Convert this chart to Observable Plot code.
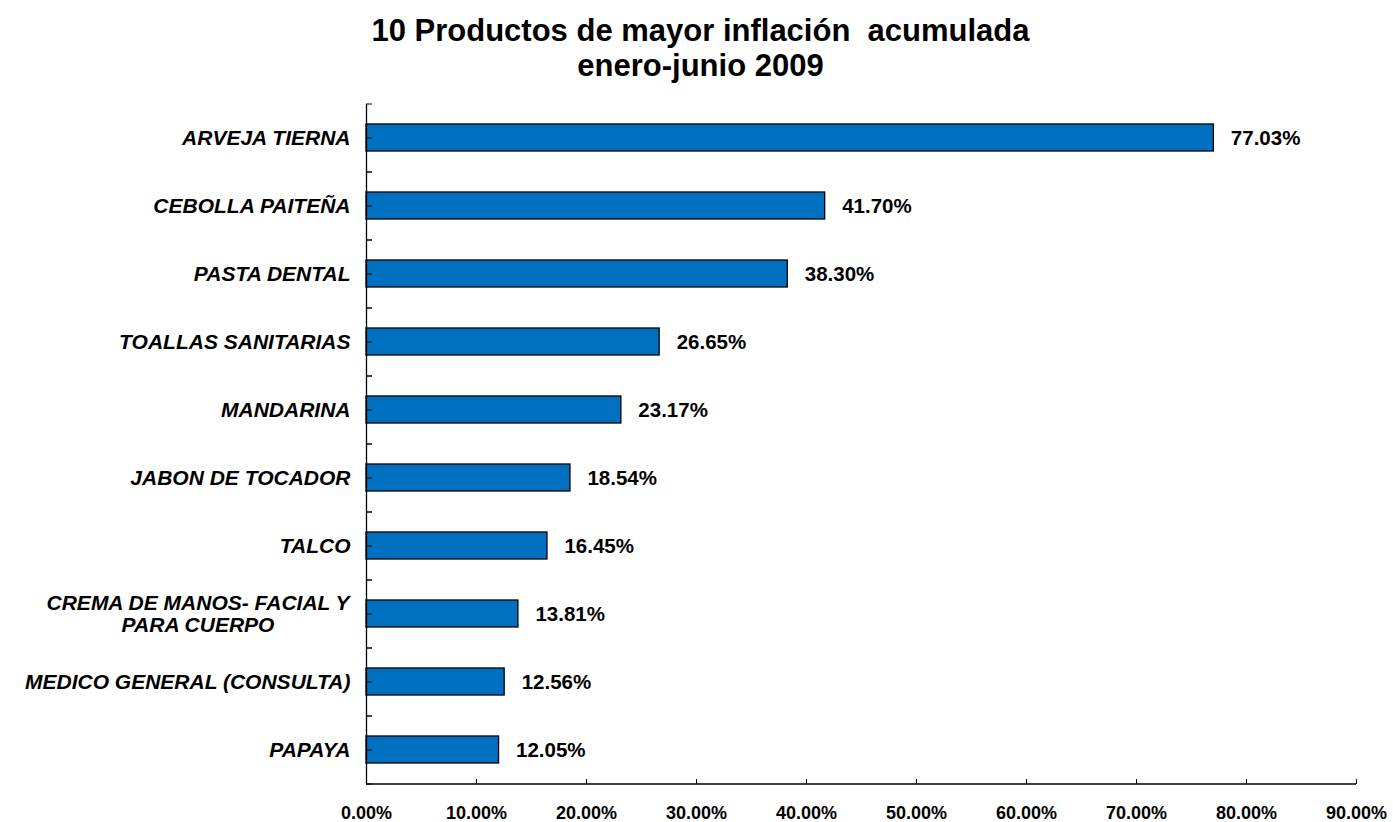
<!DOCTYPE html>
<html><head><meta charset="utf-8">
<script src="https://cdn.jsdelivr.net/npm/d3@7"></script>
<script src="https://cdn.jsdelivr.net/npm/@observablehq/plot@0.6"></script>
<style>
body{margin:0;background:#fff;font-family:Arial,"Liberation Sans",sans-serif;}
#title{box-sizing:border-box;height:85px;padding-top:13px;padding-left:8px;text-align:center;font-weight:bold;font-size:31px;line-height:35px;color:#000;}
</style></head>
<body>
<div id="title">10 Productos de mayor inflación&nbsp; acumulada<br>enero-junio 2009</div>
<div id="chart"></div>
<script>
const products = ["ARVEJA TIERNA","CEBOLLA PAITEÑA","PASTA DENTAL","TOALLAS SANITARIAS","MANDARINA","JABON DE TOCADOR","TALCO","CREMA DE MANOS- FACIAL Y\nPARA CUERPO","MEDICO GENERAL (CONSULTA)","PAPAYA"];
const inflation = [77.03,41.70,38.30,26.65,23.17,18.54,16.45,13.81,12.56,12.05];
const xTicks = [0,10,20,30,40,50,60,70,80,90];

const data = products.map((p,i)=>({product:p, value:inflation[i]}));
const font = 'Arial, "Liberation Sans", sans-serif';

const chart = Plot.plot({
  width:1393, height:737,
  marginLeft:366, marginRight:37, marginTop:19, marginBottom:38,
  style:{fontFamily:font, background:"white", color:"#000"},
  x:{domain:[0,90], ticks:xTicks, label:null},
  y:{domain:products, paddingInner:0.6, paddingOuter:0.3, label:null},
  marks:[
    Plot.barX(data,{x:"value", y:"product", fill:"#0070C0", stroke:"#000", strokeWidth:1.3}),
    Plot.text(data,{x:"value", y:"product", text:d=>d.value.toFixed(2)+"%", textAnchor:"start", dx:17, fontWeight:"bold", fontSize:20.5, fill:"#000"}),
    Plot.ruleX([0],{stroke:"#000", strokeWidth:1.3}),
    Plot.ruleY([products[products.length-1]],{dy:34, stroke:"#000", strokeWidth:1.3}),
    Plot.axisY({tickSize:-6, text:null, dy:34}),
    Plot.axisY({tickSize:-6, text:null, dy:-34}),
    Plot.axisY({tickSize:-6, text:null}),
    Plot.axisY({tickSize:0, tickPadding:16, fontSize:21, fontWeight:"bold", fontStyle:"italic", label:null, lineHeight:1.05}),
    Plot.axisX({ticks:xTicks, tickSize:-5, text:null}),
    Plot.axisX({ticks:xTicks, tickSize:0, tickPadding:22, tickFormat:d=>d.toFixed(2)+"%", fontSize:18, fontWeight:"bold", label:null})
  ]
});
document.getElementById("chart").appendChild(chart);

chart.querySelectorAll('g[aria-label="y-axis tick label"] text').forEach(t=>{
  t.setAttribute("font-style","italic");
  if (t.querySelectorAll("tspan").length > 1) {
    const w = t.getBBox().width;
    t.setAttribute("text-anchor","middle");
    t.setAttribute("transform",(t.getAttribute("transform")||"")+` translate(${-w/2},0)`);
  }
});
</script>
</body></html>
